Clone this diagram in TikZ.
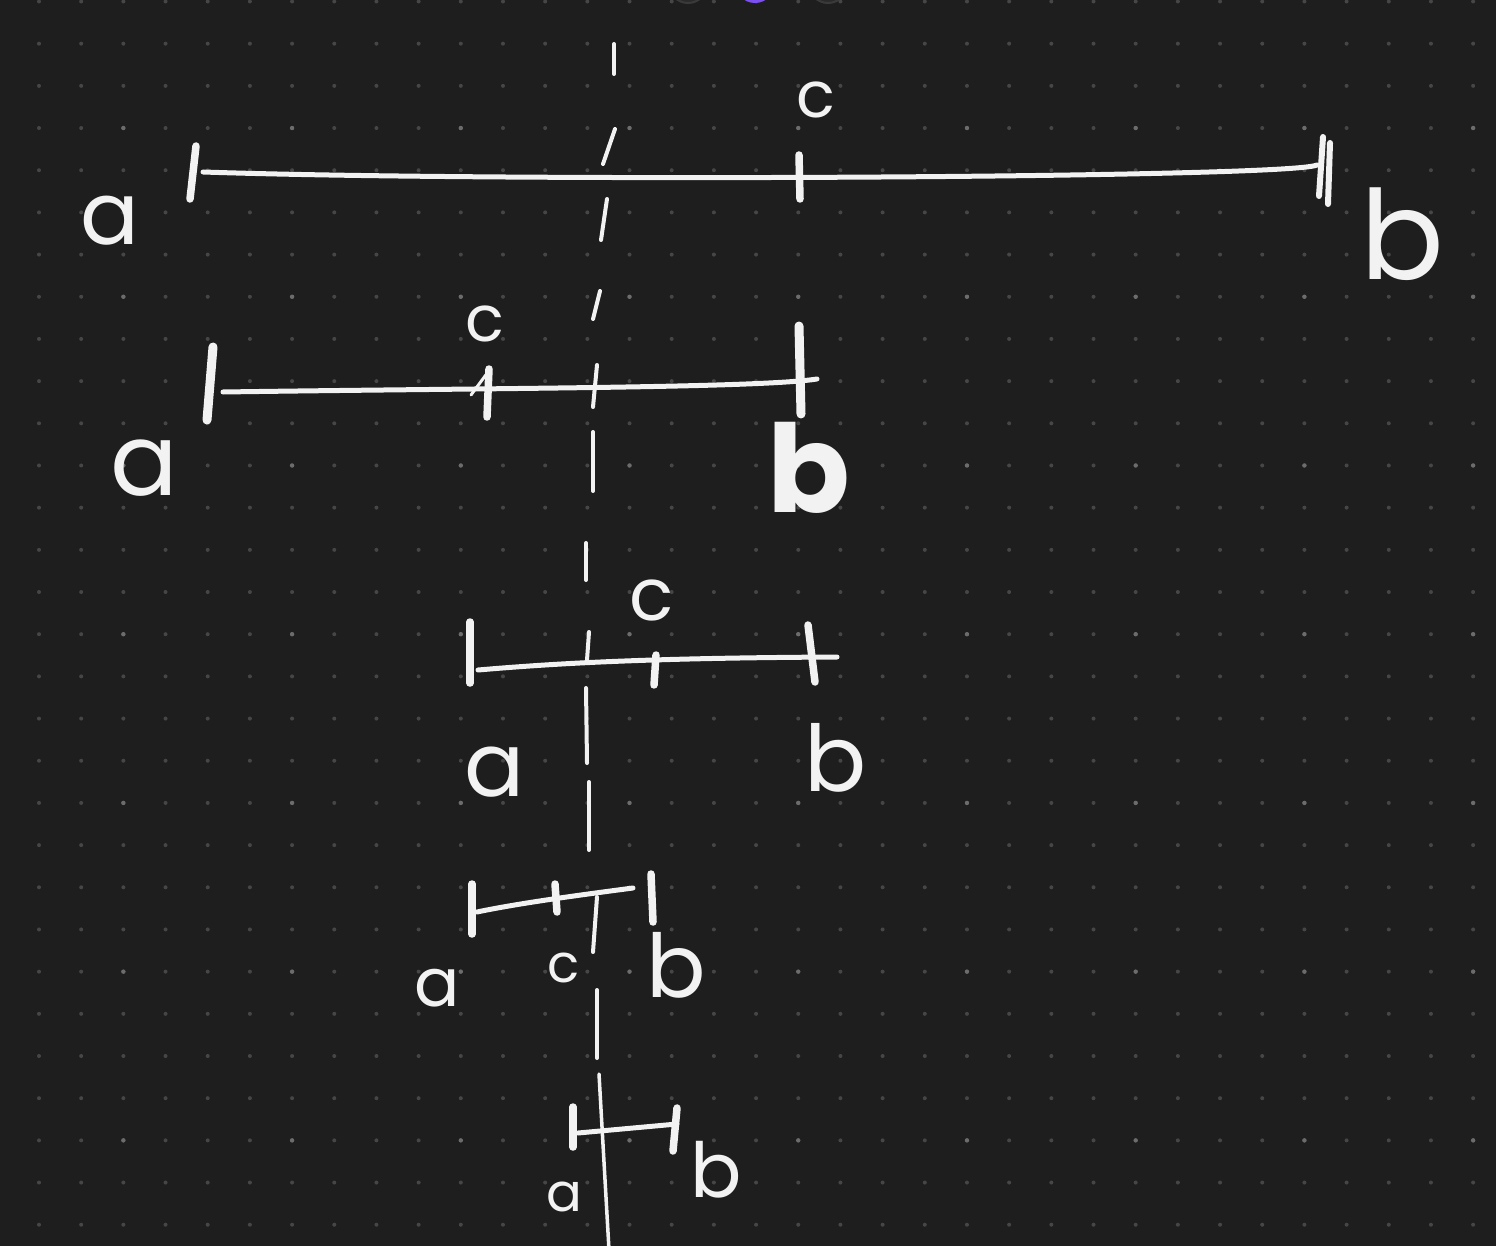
\documentclass[tikz,border=0pt]{standalone}
\usepackage{fontspec}
\setmainfont{Poppins}
\usepackage{tikz}
\usetikzlibrary{positioning}
\definecolor{board}{HTML}{1E1E1E}
\definecolor{dotgrey}{HTML}{464646}
\definecolor{dotlight}{HTML}{6C6C6C}
\definecolor{chalk}{HTML}{F2F2F2}
\definecolor{pickgrey}{HTML}{2A2A2A}
\definecolor{pickring}{HTML}{3A3A3A}
\definecolor{pickpurple}{HTML}{7B4FF0}
\newcommand{\hw}[1]{\fontsize{#1}{#1}\selectfont}

\begin{document}
\begin{tikzpicture}[x=1pt, y=-1pt, line cap=round, line join=round]
\tikzstyle{seg}=[draw=chalk, line width=5pt]
\tikzstyle{tickmark}=[draw=chalk, line width=7.5pt]
\tikzstyle{dashpiece}=[draw=chalk, line width=4pt]
\tikzstyle{lbl}=[text=chalk, inner sep=0pt]
\fill[board] (0,0) rectangle (1496,1246);
\useasboundingbox (0,0) rectangle (1496,1246);
% dot grid
\foreach \i in {0,...,34}
  \foreach \j in {0,...,29}
    \fill[dotgrey] (39+42.18*\i, 1.5+42.18*\j) circle (2pt);
\foreach \i in {2,6,...,34}
  \foreach \j in {3,7,...,27}
    \fill[dotlight] (39+42.18*\i, 1.5+42.18*\j) circle (2.2pt);
% colour picker, cut off at the top
\begin{scope}
\clip (0,0) rectangle (1496,1246);
\filldraw[fill=pickgrey, draw=pickring, line width=2pt] (688,-16) circle (19pt);
\fill[pickpurple] (755,-17) circle (20pt);
\filldraw[fill=pickgrey, draw=pickring, line width=2pt] (828,-16) circle (19pt);
\end{scope}
% axis, dashed then solid
\foreach \ya/\xa/\yb/\xb in {44/614/74/614, 129/615/164/603, 199/607/240/601,
    291/600/319/593, 365/597/407/593, 432/593/491/593, 543/586/580/586,
    632/589/660/587, 688/586/763/587, 782/589/850/589, 897/597/952/593,
    990/597/1058/597}
  \draw[dashpiece] (\xa,\ya) -- (\xb,\yb);
\coordinate (axtop) at (599,1074);
\coordinate (axbot) at (609,1250);
\draw[chalk, line width=3.5pt] (axtop) -- (axbot);

% first interval
\coordinate (a1) at (203,172);
\coordinate (b1) at (1317,165);
\draw[seg] (a1) .. controls (500,182) and (1290,178) .. (b1);
\draw[tickmark] (196,146) -- (190,199);
\draw[tickmark] (799,155) -- (800,199);
\draw[tickmark, line width=6pt] (1323,137) -- (1319,196);
\draw[tickmark, line width=6pt] (1330,143) -- (1328,204);
\node[lbl, font=\hw{87}] (la1) at (110,221) {a};
\node[lbl, font=\hw{64}] (lc1) at (816,100) {c};
\node[lbl, font=\hw{124}] (lb1) at (1402,234) {b};

% second interval
\coordinate (a2) at (223,392);
\coordinate (b2) at (817,379);
\draw[seg] (a2) .. controls (500,388) and (760,388) .. (b2);
\draw[tickmark, line width=9pt] (213,347) -- (207,420);
\draw[tickmark] (489,369) -- (487,417);
\draw[chalk, line width=3pt] (471,395) -- (488,372);
\draw[tickmark, line width=9pt] (799,326) -- (801,414);
\node[lbl, font=\hw{100}] (la2) at (144,468) {a};
\node[lbl, font=\hw{64}] (lc2) at (485,324) {c};
\node[lbl, font=\bfseries\hw{122}] (lb2) at (809,468) {b};

% third interval
\coordinate (a3) at (478,670);
\coordinate (b3) at (837,657);
\draw[seg] (a3) .. controls (560,663) and (650,658) .. (b3);
\draw[tickmark] (470,622) -- (470,683);
\draw[tickmark] (656,655) -- (654,685);
\draw[tickmark] (808,625) -- (815,682);
\node[lbl, font=\hw{73}] (lc3) at (652,600) {c};
\node[lbl, font=\hw{89}] (la3) at (495,772) {a};
\node[lbl, font=\hw{92}] (lb3) at (836,758) {b};

% fourth interval
\coordinate (a4) at (477,912);
\coordinate (b4) at (633,888);
\draw[seg] (a4) .. controls (520,903) and (580,895) .. (b4);
\draw[tickmark] (472,884) -- (472,934);
\draw[tickmark] (555,884) -- (557,912);
\draw[tickmark] (651,874) -- (653,922);
\node[lbl, font=\hw{67}] (la4) at (437,988) {a};
\node[lbl, font=\hw{53}] (lc4) at (564,968) {c};
\node[lbl, font=\hw{88}] (lb4) at (676,965) {b};

% fifth interval
\coordinate (a5) at (578,1133);
\coordinate (b5) at (677,1124);
\draw[seg] (a5) -- (b5);
\draw[tickmark] (573,1107) -- (573,1147);
\draw[tickmark] (677,1108) -- (673,1151);
\node[lbl, font=\hw{53}] (la5) at (564,1197) {a};
\node[lbl, font=\hw{76}] (lb5) at (716,1170) {b};
\end{tikzpicture}
\end{document}
